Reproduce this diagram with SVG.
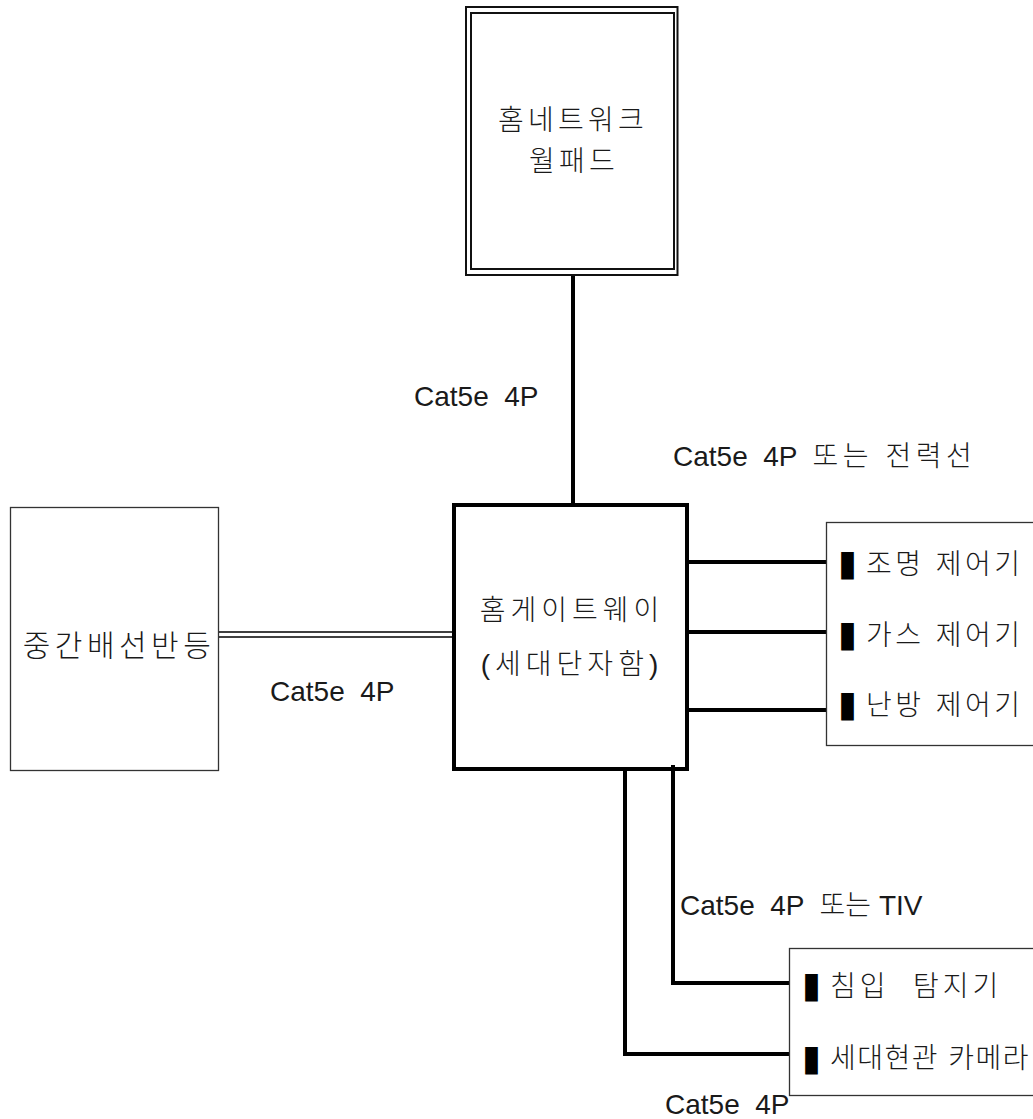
<svg xmlns="http://www.w3.org/2000/svg" width="1033" height="1119" viewBox="0 0 1033 1119">
<style>
text{font-family:"Liberation Sans","Noto Sans CJK KR",sans-serif;fill:#1a1a1a;white-space:pre;font-weight:300}
.node{font-size:28px;text-anchor:middle;letter-spacing:4.2px}
.lbl{font-size:28px}
.ko{letter-spacing:4.5px}
.dev{font-size:28px;letter-spacing:3.5px}
.bul{font-family:"DejaVu Sans",sans-serif;font-size:36px;fill:#000;font-weight:normal}
.thin{fill:#fff;stroke:#333;stroke-width:1.3}
.wire{fill:none;stroke:#000;stroke-width:4}
.dbl{fill:none;stroke:#000;stroke-width:1.7}
</style>
<rect width="1033" height="1119" fill="#fff"/>
<g id="connectors">
<line class="wire" x1="573" y1="275" x2="573" y2="505"/>
<line class="dbl" x1="218" y1="632" x2="454" y2="632"/>
<line class="dbl" x1="218" y1="637" x2="454" y2="637"/>
<line class="wire" x1="687" y1="562" x2="830" y2="562"/>
<line class="wire" x1="687" y1="632" x2="828" y2="632"/>
<line class="wire" x1="685" y1="710" x2="828" y2="710"/>
<polyline class="wire" points="673,765 673,983 789,983"/>
<polyline class="wire" points="625,769 625,1054 789,1054"/>
<text class="lbl" x="414" y="406" xml:space="preserve">Cat5e  4P</text>
<text class="lbl" x="673" y="466" xml:space="preserve">Cat5e  4P  <tspan class="ko">또는 전력선</tspan></text>
<text class="lbl" x="270" y="701" xml:space="preserve">Cat5e  4P</text>
<text class="lbl" x="680" y="915" xml:space="preserve">Cat5e  4P  또는 TIV</text>
<text class="lbl" x="665" y="1114" xml:space="preserve">Cat5e  4P</text>
</g>
<g id="wallpad">
<rect x="466" y="7" width="211.5" height="268" fill="none" stroke="#111" stroke-width="2"/>
<rect x="471" y="13" width="203" height="256" fill="none" stroke="#111" stroke-width="2"/>
<text class="node" x="573" y="130">홈네트워크</text>
<text class="node" x="574" y="171">월패드</text>
</g>
<g id="gateway">
<rect x="454" y="505" width="233" height="264" fill="none" stroke="#000" stroke-width="4"/>
<text class="node" x="572" y="620" style="letter-spacing:5px">홈게이트웨이</text>
<text class="node" x="572" y="674" style="letter-spacing:5px">(세대단자함)</text>
</g>
<g id="distribution">
<rect class="thin" x="10.5" y="507.5" width="208" height="263"/>
<text class="node" x="119" y="656" style="font-size:30px;letter-spacing:4.5px">중간배선반등</text>
</g>
<g id="controllers">
<rect class="thin" x="826.5" y="522.5" width="220" height="223"/>
<text class="bul" transform="translate(843,575) scale(0.95,1)" x="-5">▮</text>
<text class="dev" x="866" y="574">조명 제어기</text>
<text class="bul" transform="translate(843,646) scale(0.95,1)" x="-5">▮</text>
<text class="dev" x="866" y="645">가스 제어기</text>
<text class="bul" transform="translate(843,716) scale(0.95,1)" x="-5">▮</text>
<text class="dev" x="866" y="715">난방 제어기</text>
</g>
<g id="devices">
<rect class="thin" x="789.5" y="948.5" width="260" height="147"/>
<text class="bul" transform="translate(807,997) scale(0.95,1)" x="-5">▮</text>
<text class="dev" x="830" y="996" xml:space="preserve" style="letter-spacing:4px">침입  탐지기</text>
<text class="bul" transform="translate(807,1070) scale(0.95,1)" x="-5">▮</text>
<text class="dev" x="830" y="1068" style="letter-spacing:1.5px">세대현관 카메라</text>
</g>
</svg>
